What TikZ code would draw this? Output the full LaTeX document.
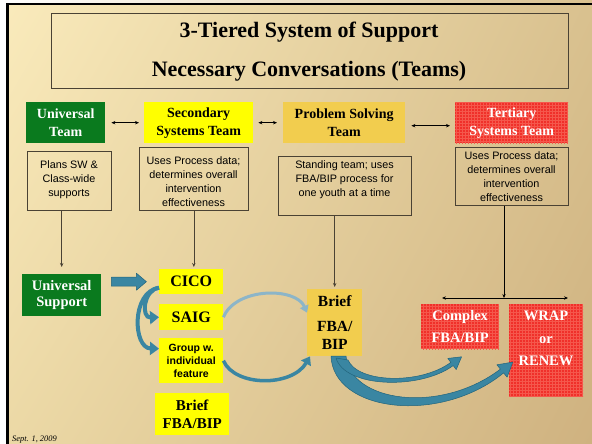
\documentclass[tikz,border=0pt]{standalone}
\usepackage{fontspec}
\setmainfont{Liberation Serif}
\newfontfamily\arl{Liberation Sans}
\usetikzlibrary{arrows.meta,patterns,calc,shadings}
\definecolor{tgreen}{HTML}{0A7A1E}
\definecolor{tyellow}{HTML}{FFFF00}
\definecolor{tgold}{HTML}{F2CD4E}
\definecolor{tred}{HTML}{F0302A}
\definecolor{tredl}{HTML}{F5584C}
\definecolor{tteal}{HTML}{3A86A2}
\definecolor{ttealdk}{HTML}{22647C}
\definecolor{tlight}{HTML}{8CB5C8}
\definecolor{tline}{HTML}{4A4234}
\definecolor{bgA}{HTML}{FAEBBC}
\definecolor{bgB}{HTML}{D9C18F}
\definecolor{bgC}{HTML}{ECD9A6}
\definecolor{bgD}{HTML}{CFB280}
\begin{document}
\begin{tikzpicture}[x=1pt,y=-1pt,
 teambox/.style={inner sep=0pt, align=center, font=\fontsize{14}{18}\selectfont\bfseries},
 gbox/.style={teambox, fill=tgreen, text=white},
 ybox/.style={teambox, fill=tyellow},
 goldbox/.style={teambox, fill=tgold},
 rbox/.style={teambox, fill=tred, postaction={pattern=grid, pattern color=tredl}, text=white},
 descbox/.style={draw=tline, line width=0.7pt, inner sep=0pt},
 desctext/.style={align=center, inner sep=0pt, font=\arl\fontsize{10.8}{14}\selectfont},
 dbl/.style={{Stealth[length=4pt,width=3.4pt]}-{Stealth[length=4pt,width=3.4pt]}, line width=0.6pt, black},
 vline/.style={-{Stealth[length=4pt,width=3.4pt]}, line width=0.6pt, tline},
 flowc/.style={draw=tteal, line width=4pt, -{Triangle[length=9pt,width=13pt]}},
 flowg/.style={draw=tteal, line width=3.5pt, -{Triangle[length=8pt,width=11pt]}},
 flowl/.style={draw=tlight, line width=3pt, -{Triangle[length=7pt,width=9pt]}},
 blk/.style={fill=tteal, draw=ttealdk, line width=0.5pt, line join=round}
]
\useasboundingbox (0,0) rectangle (592,444);
\shade[upper left=bgA, upper right=bgB, lower left=bgC, lower right=bgD] (0,0) rectangle (592,444);
\fill[white] (0,0) rectangle (6,444);
\shade[left color=white, right color=bgB] (0,0) rectangle (592,3);
\draw[black, line width=2.5pt] (7.25,444) -- (7.25,4.25) -- (592,4.25);

% title
\node[draw=tline, line width=0.7pt, minimum width=517pt, minimum height=75pt, anchor=north west] (tb) at (51,13) {};
\node[font=\fontsize{22}{24}\selectfont\bfseries] (t1) at (309,32) {3-Tiered System of Support};
\node[font=\fontsize{22}{24}\selectfont\bfseries] (t2) at (309,71) {Necessary Conversations (Teams)};

% team row
\node[gbox, minimum width=79pt, minimum height=41pt, anchor=north west] (ut) at (26,102) {Universal\\Team};
\node[ybox, minimum width=109pt, minimum height=41pt, anchor=north west] (st) at (144,102) {Secondary\\Systems Team};
\node[goldbox, minimum width=122pt, minimum height=41pt, anchor=north west] (pt) at (283,102) {Problem Solving\\Team};
\node[rbox, minimum width=113pt, minimum height=41pt, anchor=north west] (tt) at (455,102) {};
\node[teambox, text=white] (ttt) at (tt.center) {Tertiary\\Systems Team};

\draw[dbl, shorten <=6pt, shorten >=5pt] (ut.east) -- (st.west);
\draw[dbl, shorten <=5pt, shorten >=6pt] (st.east) -- (pt.west);
\draw[dbl, shorten <=6pt, shorten >=5pt] ([yshift=-3pt]pt.east) -- ([yshift=-3pt]tt.west);

% description boxes
\node[descbox, minimum width=84pt, minimum height=59pt, anchor=north west] (b1) at (27,151) {};
\node[desctext] (d1) at (69,180) {Plans SW \&\\Class-wide\\supports};
\node[descbox, minimum width=109pt, minimum height=63pt, anchor=north west] (b2) at (139,147) {};
\node[desctext] (d2) at (193.5,182) {Uses Process data;\\determines overall\\intervention\\effectiveness};
\node[descbox, minimum width=133pt, minimum height=59pt, anchor=north west] (b3) at (278,156) {};
\node[desctext] (d3) at (344.5,180) {Standing team; uses\\FBA/BIP process for\\one youth at a time};
\node[descbox, minimum width=113pt, minimum height=58pt, anchor=north west] (b4) at (455,147) {};
\node[desctext] (d4) at (511.5,177) {Uses Process data;\\determines overall\\intervention\\effectiveness};

% lower boxes
\node[gbox, font=\fontsize{14.5}{16}\selectfont\bfseries, minimum width=79pt, minimum height=42pt, anchor=north west] (us) at (22,274) {Universal\\Support};
\node[ybox, font=\fontsize{16}{18}\selectfont\bfseries, minimum width=64pt, minimum height=25pt, anchor=north west] (cico) at (159,269) {CICO};
\node[ybox, font=\fontsize{16}{18}\selectfont\bfseries, minimum width=64pt, minimum height=26pt, anchor=north west] (saig) at (159,304) {SAIG};
\node[ybox, font=\arl\fontsize{10.5}{13}\selectfont\bfseries, minimum width=64pt, minimum height=45pt, anchor=north west] (grp) at (159,338) {Group w.\\individual\\feature};
\node[ybox, font=\fontsize{15}{18}\selectfont\bfseries, minimum width=74pt, minimum height=42pt, anchor=north west] (bfl) at (155,393) {Brief\\FBA/BIP};
\node[goldbox, font=\fontsize{15.5}{18}\selectfont\bfseries, minimum width=55pt, minimum height=67pt, anchor=north west] (bf) at (307,289) {Brief\\[7pt]FBA/\\BIP};
\node[rbox, minimum width=78pt, minimum height=45pt, anchor=north west] (cx) at (421,304) {};
\node[teambox, text=white, font=\fontsize{14.5}{22}\selectfont\bfseries] (cxt) at (cx.center) {Complex\\FBA/BIP};
\node[rbox, minimum width=74pt, minimum height=92pt, anchor=north west] (wr) at (509,304) {};
\node[teambox, text=white, font=\fontsize{14.5}{22.5}\selectfont\bfseries] (wrt) at (546,338.5) {WRAP\\or\\RENEW};

% vertical connectors
\draw[vline] (b1.south -| us.north) -- ([yshift=7pt]us.north);
\draw[vline] (b2.south) -- ([yshift=2pt]b2.south |- cico.north);
\draw[vline] (b3.south -| bf.north) -- ([yshift=2pt]bf.north);
\coordinate (hm) at (504,298);
\coordinate (hl) at (442,298);
\coordinate (hr) at (568,298);
\draw[vline, black] (b4.south -| hm) -- (hm);
\draw[dbl] (hl) -- (hr);

% block arrow universal support -> CICO
\begin{scope}[shift={(us.east |- cico.west)}]
\filldraw[blk] (10,-4.5) -- (35,-4.5) -- (35,-8.5) -- (45,0) -- (35,8.5) -- (35,4.5) -- (10,4.5) -- cycle;
\end{scope}

% curved arrows from CICO
\draw[flowc] ([yshift=-6pt]cico.west) .. controls (143,290) and (141,318) .. (saig.west);
\draw[flowc] ([yshift=-6pt]cico.west) .. controls (131,292) and (133,348) .. ([yshift=12pt]grp.west);

% SAIG -> Brief (light)
\draw[flowl] (saig.east) .. controls (236,287) and (296,287) .. ([yshift=10pt]bf.west);
% Group -> Brief
\draw[flowg] (grp.east) .. controls (235,387) and (292,387) .. ([xshift=3pt]bf.south west);

% big arrows from Brief
\filldraw[blk] (331,356) .. controls (333,412) and (440,425) .. (503.6,372.9)
  -- (507.1,377.2) -- (512.8,362.1) -- (496.9,364.8) -- (500.4,369.1)
  .. controls (440,415) and (350,402) .. (346,356) -- cycle;
\filldraw[blk] (336,358) .. controls (345,388) and (420,390) .. (453.2,365.6)
  -- (456.2,369.6) -- (461.6,356.8) -- (447.8,358.4) -- (450.8,362.4)
  .. controls (420,385) and (358,383) .. (348,360) -- cycle;

\node[font=\itshape\fontsize{8.4}{10}\selectfont, anchor=base west, inner sep=0pt] (date) at (12,441.5) {Sept. 1, 2009};
\end{tikzpicture}
\end{document}
